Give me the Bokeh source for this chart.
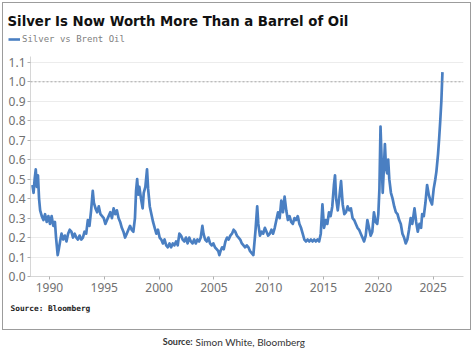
from bokeh.plotting import figure
from bokeh.layouts import column
from bokeh.models import (FixedTicker, PrintfTickFormatter, Label, Span, Legend,
                          LegendItem, Range1d)
from bokeh.embed import file_html
from bokeh.resources import INLINE

# ---- data ----
years = [1988.45, 1988.55, 1988.65, 1988.75, 1988.85, 1988.95, 1989.05, 1989.15, 1989.3, 1989.45,
         1989.6, 1989.75, 1989.9, 1990.05, 1990.2, 1990.35, 1990.5, 1990.6, 1990.75, 1990.85,
         1991.0, 1991.1, 1991.25, 1991.4, 1991.55, 1991.7, 1991.85, 1992.0, 1992.15, 1992.3,
         1992.45, 1992.6, 1992.75, 1992.9, 1993.05, 1993.2, 1993.35, 1993.5, 1993.65, 1993.8,
         1993.95, 1994.05, 1994.2, 1994.35, 1994.5, 1994.65, 1994.8, 1994.95, 1995.1, 1995.25,
         1995.4, 1995.55, 1995.7, 1995.85, 1996.0, 1996.15, 1996.3, 1996.45, 1996.6, 1996.75,
         1996.9, 1997.05, 1997.2, 1997.35, 1997.5, 1997.65, 1997.8, 1997.9, 1998.0, 1998.1,
         1998.2, 1998.35, 1998.5, 1998.6, 1998.75, 1998.9, 1999.0, 1999.15, 1999.3, 1999.45,
         1999.6, 1999.75, 1999.9, 2000.05, 2000.2, 2000.35, 2000.5, 2000.65, 2000.8, 2000.95,
         2001.1, 2001.25, 2001.4, 2001.55, 2001.7, 2001.85, 2002.0, 2002.15, 2002.3, 2002.45,
         2002.6, 2002.75, 2002.9, 2003.05, 2003.2, 2003.35, 2003.5, 2003.65, 2003.8, 2003.95,
         2004.05, 2004.2, 2004.35, 2004.5, 2004.65, 2004.8, 2004.95, 2005.1, 2005.25, 2005.4,
         2005.5, 2005.6, 2005.75, 2005.9, 2006.05, 2006.2, 2006.35, 2006.5, 2006.65, 2006.8,
         2006.95, 2007.1, 2007.25, 2007.4, 2007.55, 2007.7, 2007.85, 2008.0, 2008.15, 2008.3,
         2008.45, 2008.6, 2008.8, 2008.95, 2009.05, 2009.2, 2009.35, 2009.5, 2009.65, 2009.8,
         2009.95, 2010.1, 2010.25, 2010.4, 2010.55, 2010.7, 2010.85, 2011.0, 2011.15, 2011.3,
         2011.45, 2011.6, 2011.75, 2011.9, 2012.05, 2012.2, 2012.35, 2012.5, 2012.65, 2012.8,
         2012.95, 2013.1, 2013.25, 2013.4, 2013.55, 2013.7, 2013.85, 2014.0, 2014.15, 2014.3,
         2014.45, 2014.6, 2014.75, 2014.9, 2015.05, 2015.2, 2015.35, 2015.5, 2015.65, 2015.8,
         2015.95, 2016.05, 2016.15, 2016.3, 2016.45, 2016.6, 2016.75, 2016.9, 2017.05, 2017.2,
         2017.35, 2017.5, 2017.65, 2017.8, 2017.95, 2018.1, 2018.25, 2018.4, 2018.55, 2018.7,
         2018.85, 2019.0, 2019.15, 2019.3, 2019.45, 2019.6, 2019.75, 2019.9, 2020.0, 2020.1,
         2020.2, 2020.3, 2020.4, 2020.5, 2020.6, 2020.7, 2020.8, 2020.9, 2021.0, 2021.15,
         2021.3, 2021.45, 2021.6, 2021.75, 2021.9, 2022.05, 2022.2, 2022.35, 2022.5, 2022.65,
         2022.8, 2022.95, 2023.1, 2023.3, 2023.45, 2023.6, 2023.75, 2023.9, 2024.0, 2024.15,
         2024.3, 2024.45, 2024.6, 2024.75, 2024.9, 2025.05, 2025.2, 2025.3, 2025.45, 2025.55,
         2025.65, 2025.75, 2025.85]
ratio = [0.47, 0.43, 0.50, 0.55, 0.46, 0.52, 0.40, 0.34, 0.31, 0.29,
         0.32, 0.28, 0.31, 0.27, 0.31, 0.26, 0.28, 0.20, 0.11, 0.14,
         0.19, 0.22, 0.19, 0.21, 0.18, 0.22, 0.24, 0.23, 0.20, 0.22,
         0.20, 0.19, 0.21, 0.19, 0.20, 0.23, 0.22, 0.29, 0.26, 0.34,
         0.44, 0.38, 0.35, 0.33, 0.36, 0.32, 0.31, 0.30, 0.27, 0.29,
         0.31, 0.33, 0.30, 0.35, 0.32, 0.34, 0.30, 0.28, 0.25, 0.23,
         0.20, 0.22, 0.24, 0.26, 0.24, 0.23, 0.30, 0.44, 0.50, 0.42,
         0.46, 0.40, 0.35, 0.43, 0.46, 0.55, 0.45, 0.36, 0.32, 0.28,
         0.25, 0.22, 0.24, 0.20, 0.19, 0.17, 0.19, 0.16, 0.15, 0.17,
         0.15, 0.17, 0.16, 0.18, 0.16, 0.22, 0.21, 0.19, 0.18, 0.20,
         0.17, 0.20, 0.18, 0.17, 0.19, 0.17, 0.19, 0.18, 0.20, 0.26,
         0.22, 0.19, 0.18, 0.20, 0.17, 0.16, 0.17, 0.15, 0.14, 0.13,
         0.11, 0.13, 0.15, 0.14, 0.18, 0.20, 0.19, 0.21, 0.22, 0.24,
         0.23, 0.21, 0.20, 0.19, 0.17, 0.16, 0.15, 0.16, 0.15, 0.13,
         0.12, 0.11, 0.24, 0.36, 0.27, 0.21, 0.23, 0.22, 0.25, 0.23,
         0.21, 0.22, 0.24, 0.22, 0.25, 0.29, 0.33, 0.30, 0.39, 0.33,
         0.41, 0.34, 0.29, 0.31, 0.28, 0.27, 0.30, 0.29, 0.31, 0.27,
         0.25, 0.22, 0.19, 0.18, 0.19, 0.18, 0.19, 0.18, 0.19, 0.18,
         0.19, 0.18, 0.22, 0.37, 0.25, 0.29, 0.27, 0.33, 0.31, 0.36,
         0.47, 0.52, 0.40, 0.34, 0.41, 0.49, 0.37, 0.32, 0.33, 0.36,
         0.34, 0.35, 0.30, 0.29, 0.27, 0.25, 0.24, 0.22, 0.20, 0.18,
         0.21, 0.29, 0.25, 0.21, 0.23, 0.33, 0.28, 0.27, 0.32, 0.45,
         0.77, 0.60, 0.43, 0.55, 0.68, 0.56, 0.53, 0.60, 0.50, 0.43,
         0.40, 0.36, 0.33, 0.32, 0.29, 0.27, 0.22, 0.20, 0.17, 0.19,
         0.24, 0.30, 0.27, 0.35, 0.28, 0.23, 0.27, 0.25, 0.32, 0.31,
         0.38, 0.47, 0.42, 0.39, 0.37, 0.45, 0.50, 0.54, 0.63, 0.71,
         0.80, 0.90, 1.05]

x_ticks = [1990, 1995, 2000, 2005, 2010, 2015, 2020, 2025]
y_ticks = [0.0, 0.1, 0.2, 0.3, 0.4, 0.5, 0.6, 0.7, 0.8, 0.9, 1.0, 1.1]
parity = 1.0
series_name = "Silver vs Brent Oil"
title_text = "Silver Is Now Worth More Than a Barrel of Oil"
source_text = "Source: Bloomberg"
caption_bold = "Source:"
caption_text = "Simon White, Bloomberg"

LINE_COLOR = "#4a7fc2"
INNER_W = 467


def blank(width, height):
    f = figure(width=width, height=height, output_backend="svg", toolbar_location=None,
               x_axis_type=None, y_axis_type=None, min_border=0, frame_align=False,
               x_range=Range1d(0, 1), y_range=Range1d(0, 1))
    f.outline_line_color = None
    f.grid.visible = False
    f.background_fill_color = "white"
    f.border_fill_color = "white"
    return f


# ---- header: title + legend ----
H_H = 49
head = blank(INNER_W, H_H)
head.add_layout(Label(x=4, y=H_H - 18, x_units="screen", y_units="screen",
                      text=title_text, text_font="DejaVu Sans", text_font_style="bold",
                      text_font_size="13.3px", text_color="#111111", text_baseline="middle"))
# same series, outside this panel's view: only used for the legend swatch
swatch = head.line(years, ratio, line_color=LINE_COLOR, line_width=2.6)
legend = Legend(items=[LegendItem(label=series_name, renderers=[swatch])],
                location=(5, H_H - 36 - 5), orientation="horizontal",
                padding=0, margin=0, spacing=0, glyph_width=12, glyph_height=10,
                label_height=10, label_standoff=2,
                label_text_font="DejaVu Sans Mono", label_text_font_size="9px",
                label_text_color="#808080", border_line_color=None,
                background_fill_alpha=0)
head.add_layout(legend)

# ---- chart ----
p = figure(width=INNER_W, height=248, output_backend="svg", toolbar_location=None,
           x_range=Range1d(1988.27, 2027.77), y_range=Range1d(0, 1.13), frame_align=False,
           min_border_left=27, min_border_right=7, min_border_top=4, min_border_bottom=24)
p.outline_line_color = None
p.background_fill_color = "white"
p.border_fill_color = "white"

p.line(years, ratio, line_color=LINE_COLOR, line_width=2.7, line_join="round")
p.add_layout(Span(location=parity, dimension="width", line_color="#a8a8a8",
                  line_dash="2 2", line_width=1))

p.xgrid.visible = False
p.ygrid.grid_line_color = "#ececec"
p.ygrid.ticker = FixedTicker(ticks=y_ticks)

for ax in (p.xaxis[0], p.yaxis[0]):
    ax.axis_line_color = "#d6d6d6"
    ax.major_tick_line_color = "#b0b0b0"
    ax.minor_tick_line_color = None
    ax.major_tick_in = 0
    ax.major_tick_out = 3
    ax.major_label_text_color = "#707070"
    ax.major_label_text_font = "Noto Sans"
    ax.major_label_text_font_size = "12px"
p.xaxis.ticker = FixedTicker(ticks=x_ticks)
p.yaxis.ticker = FixedTicker(ticks=y_ticks)
p.yaxis.formatter = PrintfTickFormatter(format="%.1f")
p.xaxis.major_label_standoff = 3
p.yaxis.major_label_standoff = 2

# ---- footer inside the box ----
F_H = 29
foot = blank(INNER_W, F_H)
foot.add_layout(Label(x=7, y=F_H - 8, x_units="screen", y_units="screen",
                      text=source_text, text_font="DejaVu Sans Mono", text_font_style="bold",
                      text_font_size="7.8px", text_color="#222222", text_baseline="middle"))

boxed = column(head, p, foot, spacing=0,
               styles={"border": "1px solid #9c9c9c", "margin-left": "2px",
                       "margin-top": "2px"})

# ---- caption below the box ----
C_H = 18
cap = blank(474, C_H)
cap.add_layout(Label(x=192, y=7, x_units="screen", y_units="screen",
                     text=caption_bold, text_font="Lato", text_font_style="bold",
                     text_align="right",
                     text_font_size="9px", text_color="#333333", text_baseline="middle"))
cap.add_layout(Label(x=195, y=7, x_units="screen", y_units="screen",
                     text=caption_text, text_font="Lato",
                     text_font_size="10px", text_color="#333333", text_baseline="middle"))

layout = column(boxed, cap, spacing=0)
open("out.html", "w").write(file_html(layout, INLINE))
